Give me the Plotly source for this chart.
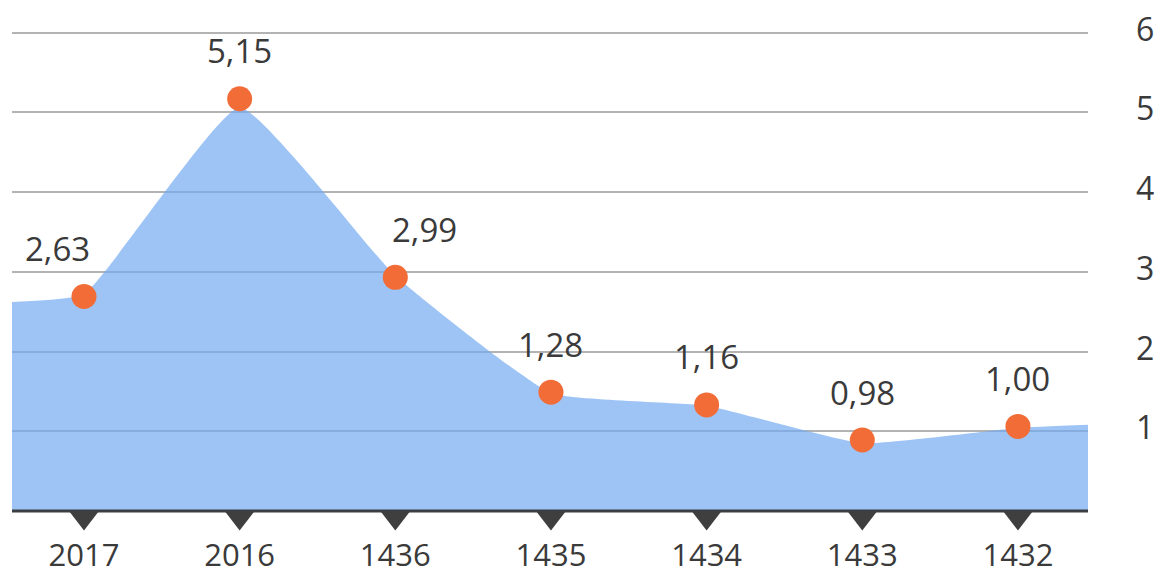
import plotly.graph_objects as go

# ---- data ----
categories = ["2017", "2016", "1436", "1435", "1434", "1433", "1432"]
point_values = [2.69, 5.17, 2.93, 1.49, 1.33, 0.89, 1.06]          # marker heights
point_labels = ["2,63", "5,15", "2,99", "1,28", "1,16", "0,98", "1,00"]
area_values = [2.72, 5.06, 2.95, 1.48, 1.32, 0.85, 1.04]           # fill edge at categories
area_left_value = 2.62
area_right_value = 1.08
y_ticks = [1, 2, 3, 4, 5, 6]

# ---- styling ----
FONT = "Open Sans"
TEXT = "#3a3a3a"
FILL = "rgba(115,171,241,0.70)"
ORANGE = "#f26c37"
AXIS_DARK = "#3b3e42"
X_RANGE = [-0.4625, 6.45]
Y_RANGE = [-0.364, 6.22]
POINTER_Y = -0.082
label_anchor = ["right", "center", "left", "center", "center", "center", "center"]
anchor_shift = {"right": 8, "center": 0, "left": -5}

idx = list(range(len(categories)))

fig = go.Figure()

# filled area
fig.add_trace(go.Scatter(
    x=[X_RANGE[0]] + idx + [X_RANGE[1]],
    y=[area_left_value] + area_values + [area_right_value],
    mode="lines",
    line=dict(shape="spline", smoothing=0.4, width=0, color=FILL),
    fill="tozeroy",
    fillcolor=FILL,
    hoverinfo="skip",
    showlegend=False,
))

# triangle pointers under the baseline
fig.add_trace(go.Scatter(
    x=idx,
    y=[POINTER_Y] * len(idx),
    mode="markers",
    marker=dict(symbol="triangle-down", size=26, color="#3f3f3f", line=dict(width=0)),
    hoverinfo="skip",
    showlegend=False,
))

# orange points
fig.add_trace(go.Scatter(
    x=idx,
    y=point_values,
    mode="markers",
    marker=dict(size=25, color=ORANGE, line=dict(width=0)),
    cliponaxis=False,
    showlegend=False,
))

for i, (v, lab) in enumerate(zip(point_values, point_labels)):
    anc = label_anchor[i]
    fig.add_annotation(
        x=i, y=v, text=lab, showarrow=False,
        xanchor=anc, yanchor="middle",
        xshift=anchor_shift[anc], yshift=48,
        font=dict(family=FONT, size=33, color=TEXT),
    )

# dark baseline at zero
fig.add_hline(y=0, line=dict(color=AXIS_DARK, width=3), layer="above")

fig.update_layout(
    width=1157, height=567,
    margin=dict(l=4, r=77, t=7, b=35, autoexpand=False),
    paper_bgcolor="white",
    plot_bgcolor="white",
    showlegend=False,
    font=dict(family=FONT, color=TEXT),
)

fig.update_xaxes(
    range=X_RANGE,
    tickmode="array", tickvals=idx, ticktext=categories,
    tickfont=dict(family=FONT, size=31, color=TEXT),
    showgrid=False, zeroline=False, showline=False,
    ticks="", ticklabelstandoff=-6, automargin=False,
)

fig.update_yaxes(
    range=Y_RANGE,
    side="right",
    tickmode="array", tickvals=y_ticks, ticktext=[str(t) for t in y_ticks],
    tickfont=dict(family=FONT, size=32, color=TEXT),
    showgrid=True, gridcolor="#b3b3b3", gridwidth=1.5,
    zeroline=False, showline=False, ticks="",
    ticklabelstandoff=47, ticklabelshift=-3, automargin=False,
    ticklabeloverflow="allow",
)

fig.write_html("out.html")
